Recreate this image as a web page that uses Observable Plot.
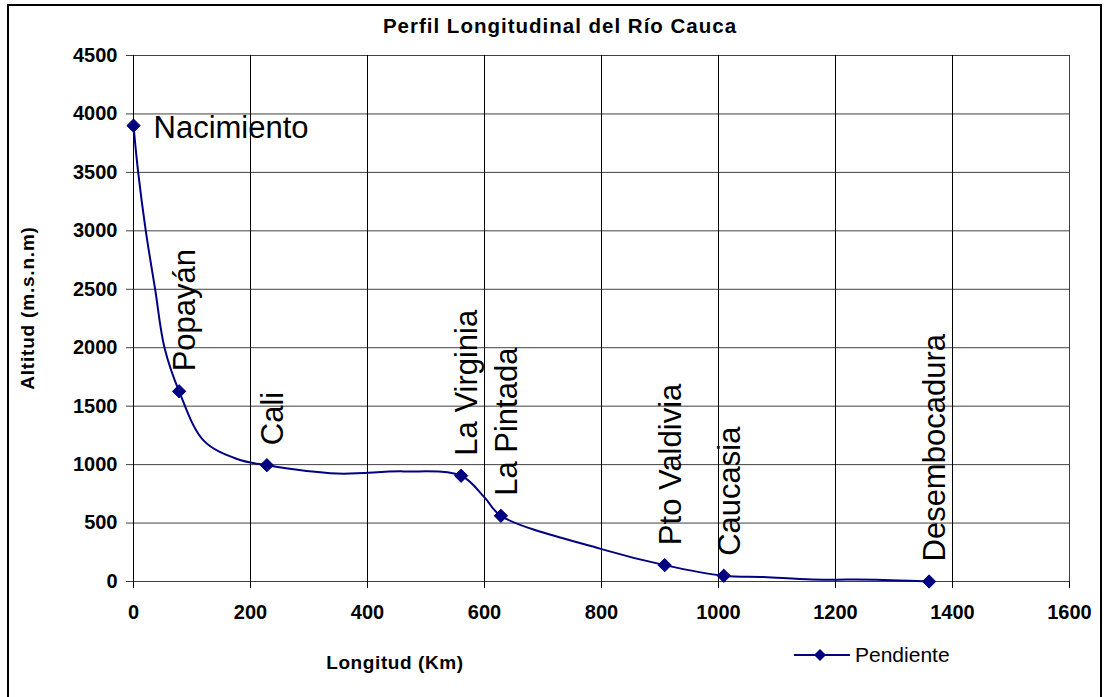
<!DOCTYPE html>
<html>
<head>
<meta charset="utf-8">
<script src="https://cdn.jsdelivr.net/npm/d3@7"></script>
<script src="https://cdn.jsdelivr.net/npm/@observablehq/plot@0.6"></script>
<style>
  html, body { margin: 0; padding: 0; background: #fff; }
  #wrap { position: relative; width: 1107px; height: 697px; overflow: hidden; font-family: "Liberation Sans", Arial, sans-serif; }
  #frame { position: absolute; left: 7px; top: 4px; width: 1095px; height: 700px; border: 2px solid #000; box-sizing: border-box; }
  #chart { position: absolute; left: 0; top: 0; }
  .abs { position: absolute; white-space: nowrap; color: #000; }
  #title { left: 560px; top: 26px; transform: translate(-50%, -50%); font-weight: bold; font-size: 20.5px; letter-spacing: 1px; }
  #ylab { left: 28px; top: 308px; transform: translate(-50%, -50%) rotate(-90deg); font-weight: bold; font-size: 19px; letter-spacing: 0.8px; }
  #xlab { left: 395px; top: 663px; transform: translate(-50%, -50%); font-weight: bold; font-size: 19px; letter-spacing: 0.6px; }
  #legend { left: 794px; top: 655px; transform: translate(0, -50%); display: flex; align-items: center; font-size: 21px; }
  #legend svg { margin-right: 5px; }
</style>
</head>
<body>
<div id="wrap">
  <div id="frame"></div>
  <div id="chart"></div>
  <div id="title" class="abs"></div>
  <div id="ylab" class="abs"></div>
  <div id="xlab" class="abs"></div>
  <div id="legend" class="abs"></div>
</div>
<script>
// ---- data ----
const chartTitle = "Perfil Longitudinal del Río Cauca";
const xTitle = "Longitud (Km)";
const yTitle = "Altitud (m.s.n.m)";
const seriesName = "Pendiente";

// named stations (marked points)
const stationNames = ["Nacimiento", "Popayán", "Cali", "La Virginia", "La Pintada", "Pto Valdivia", "Caucasia", "Desembocadura"];
const stationKm    = [0, 78, 228, 560, 628, 908, 1009, 1360];
const stationAlt   = [3900, 1627, 995, 905, 562, 140, 49, 0];

// full profile (line through stations and intermediate readings)
const profileKm  = [0, 8, 21, 37, 53, 78, 120, 177, 228, 348, 462, 560, 600, 628, 800, 908, 1009, 1077, 1160, 1270, 1360];
const profileAlt = [3900, 3500, 3000, 2500, 2000, 1627, 1205, 1048, 995, 924, 942, 905, 720, 562, 277, 140, 49, 38, 18, 15, 0];

const xTicks = [0, 200, 400, 600, 800, 1000, 1200, 1400, 1600];
const yTicks = [0, 500, 1000, 1500, 2000, 2500, 3000, 3500, 4000, 4500];

// ---- build tables ----
const stations = stationNames.map((name, i) => ({name, km: stationKm[i], alt: stationAlt[i]}));
const profile = profileKm.map((km, i) => ({km, alt: profileAlt[i]}));
const navy = "#000080";
const plain = (d) => String(d);

const chart = Plot.plot({
  width: 1107,
  height: 697,
  marginLeft: 133,
  marginRight: 38,
  marginTop: 55,
  marginBottom: 116,
  style: {fontFamily: '"Liberation Sans", Arial, sans-serif', background: "transparent", color: "#000"},
  x: {domain: [0, 1600]},
  y: {domain: [0, 4500]},
  marks: [
    Plot.gridY(yTicks, {stroke: "#404040", strokeOpacity: 1, strokeWidth: 1}),
    Plot.gridX(xTicks.slice(0, -1), {stroke: "#000", strokeOpacity: 1, strokeWidth: 1}),
    Plot.gridX([1600], {stroke: "#404040", strokeOpacity: 1, strokeWidth: 1}),
    Plot.axisX(xTicks, {tickSize: 7, tickPadding: 16, tickFormat: plain, label: null, fontSize: 20, fontWeight: "bold", stroke: "#000", strokeOpacity: 1, style: {letterSpacing: "1.2px"}}),
    Plot.axisY(yTicks, {tickSize: 7, tickPadding: 9, tickFormat: plain, label: null, fontSize: 20, fontWeight: "bold", stroke: "#404040", strokeOpacity: 1, style: {letterSpacing: "1.2px"}}),
    Plot.line(profile, {x: "km", y: "alt", curve: "catmull-rom", stroke: navy, strokeWidth: 2}),
    Plot.dot(stations, {x: "km", y: "alt", symbol: "diamond2", r: 6, fill: navy, stroke: navy, strokeWidth: 1}),
    Plot.text(stations.filter((d) => d.name !== "Nacimiento"), {x: "km", y: "alt", text: "name", rotate: -90, textAnchor: "start", dx: 6, dy: -20, fontSize: 31, fill: "#000"}),
    Plot.text(stations.filter((d) => d.name === "Nacimiento"), {x: "km", y: "alt", text: "name", textAnchor: "start", dx: 20, dy: 2, fontSize: 31, fill: "#000"})
  ]
});
document.getElementById("chart").appendChild(chart);

document.getElementById("title").textContent = chartTitle;
document.getElementById("ylab").textContent = yTitle;
document.getElementById("xlab").textContent = xTitle;
const legend = document.getElementById("legend");
legend.innerHTML = `<svg width="56" height="16" viewBox="0 0 56 16"><line x1="0" y1="8" x2="56" y2="8" stroke="${navy}" stroke-width="2"/><path d="M26,2 L32,8 L26,14 L20,8 Z" fill="${navy}"/></svg><span></span>`;
legend.querySelector("span").textContent = seriesName;
</script>
</body>
</html>
